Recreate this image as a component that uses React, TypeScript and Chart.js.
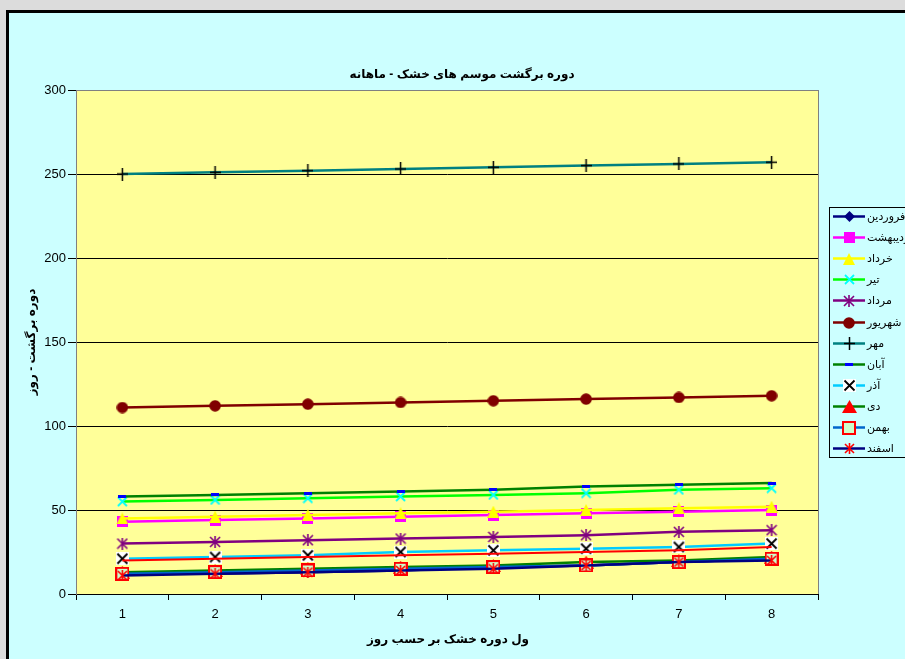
import React, { useEffect, useRef } from 'react';
import { Chart, registerables } from 'chart.js';
Chart.register(...registerables);

const categories = ['1', '2', '3', '4', '5', '6', '7', '8'];
const yTickMin = 0;
const yTickMax = 300;
const yTickStep = 50;

const titleText = 'دوره برگشت موسم های خشک - ماهانه';
const xTitleText = 'ول دوره خشک بر حسب روز';
const yTitleText = 'دوره برگشت - روز';

const seriesNames = ['فروردین', 'اردیبهشت', 'خرداد', 'تیر', 'مرداد', 'شهریور', 'مهر', 'آبان', 'آذر', 'دی', 'بهمن', 'اسفند'];

const farvardin = [12, 12, 13, 14, 16, 17, 19, 21];
const ordibehesht = [43, 44, 45, 46, 47, 48, 49, 50];
const khordad = [45, 46, 47, 48, 49, 50, 51, 52];
const tir = [55, 56, 57, 58, 59, 60, 62, 63];
const mordad = [30, 31, 32, 33, 34, 35, 37, 38];
const shahrivar = [111, 112, 113, 114, 115, 116, 117, 118];
const mehr = [250, 251, 252, 253, 254, 255, 256, 257];
const aban = [58, 59, 60, 61, 62, 64, 65, 66];
const azar = [21, 22, 23, 25, 26, 27, 28, 30];
const dey = [13, 14, 15, 16, 17, 19, 20, 22];
const bahman = [12, 13, 14, 15, 16, 17, 19, 21];
const esfand = [11, 12, 13, 14, 15, 17, 19, 20];
const unlabeledRed = [20, 21, 22, 23, 24, 25, 26, 28];

const FONT = '"Liberation Sans", "DejaVu Sans", Arial, sans-serif';

function mk(w: number, h: number, draw: (c: CanvasRenderingContext2D) => void) {
  const cv = document.createElement('canvas');
  cv.width = w;
  cv.height = h;
  const c = cv.getContext('2d')!;
  draw(c);
  return cv;
}

function makeMarkers() {
  const diamond = mk(11, 11, (c) => {
    c.fillStyle = '#000080';
    c.beginPath(); c.moveTo(5.5, 0); c.lineTo(11, 5.5); c.lineTo(5.5, 11); c.lineTo(0, 5.5); c.closePath(); c.fill();
  });
  const squareMag = mk(11, 11, (c) => { c.fillStyle = '#ff00ff'; c.fillRect(0, 0, 11, 11); });
  const triYellow = mk(12, 12, (c) => {
    c.fillStyle = '#ffff00';
    c.beginPath(); c.moveTo(6, 0); c.lineTo(12, 12); c.lineTo(0, 12); c.closePath(); c.fill();
  });
  const xCyan = mk(11, 11, (c) => {
    c.strokeStyle = '#00ffff'; c.lineWidth = 1.8;
    c.beginPath(); c.moveTo(1, 1); c.lineTo(10, 10); c.moveTo(10, 1); c.lineTo(1, 10); c.stroke();
  });
  const starPurple = mk(12, 12, (c) => {
    c.strokeStyle = '#800080'; c.lineWidth = 1.6;
    c.beginPath(); c.moveTo(1, 1); c.lineTo(11, 11); c.moveTo(11, 1); c.lineTo(1, 11); c.moveTo(6, 0); c.lineTo(6, 12); c.stroke();
  });
  const circleRed = mk(12, 12, (c) => {
    c.fillStyle = '#800000';
    c.beginPath(); c.arc(6, 6, 5.8, 0, Math.PI * 2); c.fill();
  });
  const plusBlack = mk(11, 13, (c) => {
    c.strokeStyle = '#000'; c.lineWidth = 1.5;
    c.beginPath(); c.moveTo(0, 6.5); c.lineTo(11, 6.5); c.moveTo(5.5, 0); c.lineTo(5.5, 13); c.stroke();
  });
  const dashBlue = mk(8, 3, (c) => { c.fillStyle = '#0000ff'; c.fillRect(0, 0, 8, 3); });
  const xWhite = mk(13, 13, (c) => {
    c.fillStyle = '#ffffff'; c.fillRect(0, 0, 13, 13);
    c.strokeStyle = '#000'; c.lineWidth = 1.8;
    c.beginPath(); c.moveTo(1.5, 1.5); c.lineTo(11.5, 11.5); c.moveTo(11.5, 1.5); c.lineTo(1.5, 11.5); c.stroke();
  });
  const triRed = mk(15, 13, (c) => {
    c.fillStyle = '#ff0000';
    c.beginPath(); c.moveTo(7.5, 0); c.lineTo(15, 13); c.lineTo(0, 13); c.closePath(); c.fill();
  });
  const squareGreen = mk(14, 14, (c) => {
    c.fillStyle = '#ccffcc'; c.fillRect(1, 1, 12, 12);
    c.strokeStyle = '#ff0000'; c.lineWidth = 2; c.strokeRect(1, 1, 12, 12);
  });
  const starRed = mk(11, 11, (c) => {
    c.strokeStyle = '#ff0000'; c.lineWidth = 1.6;
    c.beginPath(); c.moveTo(1, 1); c.lineTo(10, 10); c.moveTo(10, 1); c.lineTo(1, 10); c.moveTo(5.5, 0); c.lineTo(5.5, 11); c.stroke();
  });
  return [diamond, squareMag, triYellow, xCyan, starPurple, circleRed, plusBlack, dashBlue, xWhite, triRed, squareGreen, starRed];
}

const seriesValues = [farvardin, ordibehesht, khordad, tir, mordad, shahrivar, mehr, aban, azar, dey, bahman, esfand];
const lineColors = ['#000080', '#ff00ff', '#ffff00', '#00ff00', '#800080', '#800000', '#008080', '#008000', '#00ccff', '#008000', '#0066cc', '#000080'];

export default function App() {
  const ref = useRef<HTMLCanvasElement | null>(null);
  useEffect(() => {
    if (!ref.current) return;
    const markers = makeMarkers();
    const datasets: any[] = seriesValues.map((vals, i) => ({
      label: seriesNames[i],
      data: vals,
      borderColor: lineColors[i],
      backgroundColor: lineColors[i],
      borderWidth: 2.5,
      pointStyle: markers[i],
      pointRadius: 6,
      tension: 0,
      order: -i,
    }));
    datasets.push({
      label: '',
      data: unlabeledRed,
      borderColor: '#ff0000',
      backgroundColor: '#ff0000',
      borderWidth: 2,
      pointRadius: 0,
      tension: 0,
      order: -8.5,
    });

    const decor = {
      id: 'decor',
      beforeDraw(chart: any) {
        const { ctx, chartArea: a } = chart;
        ctx.save();
        ctx.fillStyle = '#dcdcdc'; ctx.fillRect(0, 0, 905, 659);
        ctx.fillStyle = '#000'; ctx.fillRect(6, 10, 905, 659);
        ctx.fillStyle = '#ccffff'; ctx.fillRect(9, 13, 905, 659);
        ctx.fillStyle = '#ffff99'; ctx.fillRect(a.left, a.top, a.right - a.left, a.bottom - a.top);
        ctx.strokeStyle = '#808080'; ctx.lineWidth = 1;
        ctx.strokeRect(a.left + 0.5, a.top + 0.5, a.right - a.left, a.bottom - a.top);
        ctx.restore();
      },
      afterDraw(chart: any) {
        const { ctx } = chart;
        ctx.save();
        ctx.fillStyle = '#000';
        ctx.direction = 'rtl';
        ctx.textBaseline = 'middle';
        ctx.textAlign = 'center';
        ctx.font = 'bold 12px ' + FONT;
        ctx.fillText(titleText, 462, 75);
        ctx.fillText(xTitleText, 448, 640);
        ctx.save();
        ctx.translate(32, 342);
        ctx.rotate(-Math.PI / 2);
        ctx.fillText(yTitleText, 0, 0);
        ctx.restore();
        // legend
        ctx.fillStyle = '#ccffff';
        ctx.fillRect(829, 207, 120, 251);
        ctx.strokeStyle = '#000'; ctx.lineWidth = 1;
        ctx.strokeRect(829.5, 207.5, 120, 250);
        ctx.font = '11px ' + FONT;
        ctx.textAlign = 'left';
        seriesNames.forEach((name, i) => {
          const y = Math.round(216 + i * 21.1) + 0.5;
          ctx.strokeStyle = lineColors[i];
          ctx.lineWidth = 2.5;
          ctx.beginPath(); ctx.moveTo(833, y); ctx.lineTo(865, y); ctx.stroke();
          const m = markers[i];
          ctx.drawImage(m, Math.round(849 - m.width / 2), Math.round(y - m.height / 2));
          ctx.fillStyle = '#000';
          ctx.fillText(name, 867, y);
        });
        ctx.restore();
      },
    };

    const chart = new Chart(ref.current, {
      type: 'line',
      data: { labels: categories, datasets },
      options: {
        animation: false,
        responsive: false,
        layout: { padding: { top: 90, left: 0, right: 87, bottom: 25 } },
        plugins: { legend: { display: false }, title: { display: false }, tooltip: { enabled: false } },
        scales: {
          x: {
            offset: true,
            grid: { offset: true, drawOnChartArea: false, drawTicks: true, tickLength: 6, color: '#000' },
            border: { color: '#000', width: 1 },
            ticks: { color: '#000', font: { family: FONT, size: 13 }, padding: 7, maxRotation: 0 },
            afterFit: (s: any) => { s.height = 40; },
          },
          y: {
            min: yTickMin,
            max: yTickMax,
            ticks: { stepSize: yTickStep, color: '#000', font: { family: FONT, size: 13 }, padding: 2 },
            grid: {
              color: (c: any) => (c.tick && c.tick.value === yTickMax ? '#808080' : '#000'),
              tickColor: '#000',
              tickLength: 8,
            },
            border: { color: '#808080', width: 1 },
            afterFit: (s: any) => { s.width = 76; },
          },
        },
      },
      plugins: [decor],
    } as any);
    return () => chart.destroy();
  }, []);

  return (
    <div style={{ position: 'fixed', left: 0, top: 0, width: 905, height: 659, overflow: 'hidden' }}>
      <canvas ref={ref} width={905} height={659} style={{ display: 'block', width: 905, height: 659 }} />
    </div>
  );
}
